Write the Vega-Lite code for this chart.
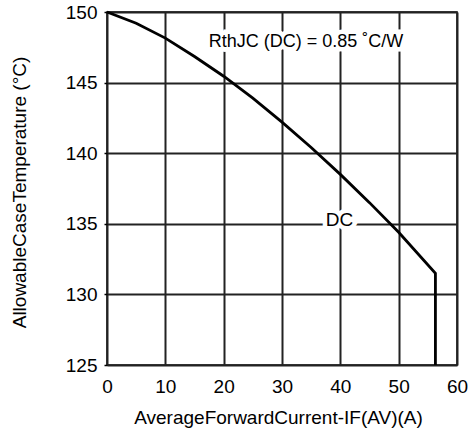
{
  "$schema": "https://vega.github.io/schema/vega-lite/v6.json",
  "autosize": {"type": "none"},
  "padding": {"left": 107, "top": 12, "right": 12, "bottom": 73},
  "width": 350,
  "height": 353,
  "background": "white",
  "config": {
    "font": "Liberation Sans",
    "view": {"stroke": "black", "strokeWidth": 1.5}
  },
  "datasets": {
    "curve": [
      {"i": 0, "current": 0, "temp": 150},
      {"i": 1, "current": 5, "temp": 149.2},
      {"i": 2, "current": 10, "temp": 148.15},
      {"i": 3, "current": 15, "temp": 146.85},
      {"i": 4, "current": 20, "temp": 145.45},
      {"i": 5, "current": 25, "temp": 143.9},
      {"i": 6, "current": 30, "temp": 142.2},
      {"i": 7, "current": 35, "temp": 140.4},
      {"i": 8, "current": 40, "temp": 138.5},
      {"i": 9, "current": 45, "temp": 136.5},
      {"i": 10, "current": 50, "temp": 134.4},
      {"i": 11, "current": 56.3, "temp": 131.5},
      {"i": 12, "current": 56.3, "temp": 125}
    ],
    "notes": [
      {"label": "RthJC (DC) = 0.85 ˚C/W", "current": 34.1, "temp": 147.9, "size": 18},
      {"label": "DC", "current": 39.85, "temp": 135.3, "size": 19}
    ]
  },
  "layer": [
    {
      "data": {"name": "curve"},
      "mark": {"type": "line", "color": "black", "strokeWidth": 2.8, "strokeJoin": "miter"},
      "encoding": {
        "x": {
          "field": "current", "type": "quantitative",
          "scale": {"domain": [0, 60], "nice": false, "zero": false},
          "axis": {
            "grid": true,
            "gridColor": "#222222",
            "gridOpacity": 1,
            "gridWidth": 2,
            "domain": false,
            "values": [0, 10, 20, 30, 40, 50, 60],
            "title": "AverageForwardCurrent-IF(AV)(A)",
            "titleFontSize": 19,
            "titleFontWeight": "normal",
            "titleColor": "black",
            "titleX": 171,
            "titleY": 58,
            "titleBaseline": "alphabetic",
            "labelFontSize": 19,
            "labelColor": "black",
            "ticks": false,
            "labelPadding": 12,
            "labelFlush": false,
            "labelOverlap": false
          }
        },
        "y": {
          "field": "temp", "type": "quantitative",
          "scale": {"domain": [125, 150], "nice": false, "zero": false},
          "axis": {
            "grid": true,
            "gridColor": "#222222",
            "gridOpacity": 1,
            "gridWidth": 2,
            "domain": false,
            "values": [125, 130, 135, 140, 145, 150],
            "title": "AllowableCaseTemperature (°C)",
            "titleFontSize": 19,
            "titleFontWeight": "normal",
            "titleColor": "black",
            "titleX": -88,
            "titleY": 180,
            "titleAngle": -90,
            "titleBaseline": "middle",
            "titleAlign": "center",
            "labelFontSize": 19,
            "labelColor": "black",
            "ticks": true,
            "tickSize": 3,
            "tickWidth": 1.5,
            "tickColor": "black",
            "labelPadding": 7,
            "labelFlush": false,
            "labelOverlap": false
          }
        },
        "order": {"field": "i", "type": "quantitative"}
      }
    },
    {
      "data": {"name": "notes"},
      "mark": {"type": "text", "fill": "white", "stroke": "white", "strokeWidth": 9, "strokeJoin": "miter", "align": "center", "baseline": "middle"},
      "encoding": {
        "x": {"field": "current", "type": "quantitative"},
        "y": {"field": "temp", "type": "quantitative"},
        "text": {"field": "label"},
        "size": {"field": "size", "type": "quantitative", "scale": null}
      }
    },
    {
      "data": {"name": "notes"},
      "mark": {"type": "text", "color": "black", "align": "center", "baseline": "middle"},
      "encoding": {
        "x": {"field": "current", "type": "quantitative"},
        "y": {"field": "temp", "type": "quantitative"},
        "text": {"field": "label"},
        "size": {"field": "size", "type": "quantitative", "scale": null}
      }
    }
  ]
}
